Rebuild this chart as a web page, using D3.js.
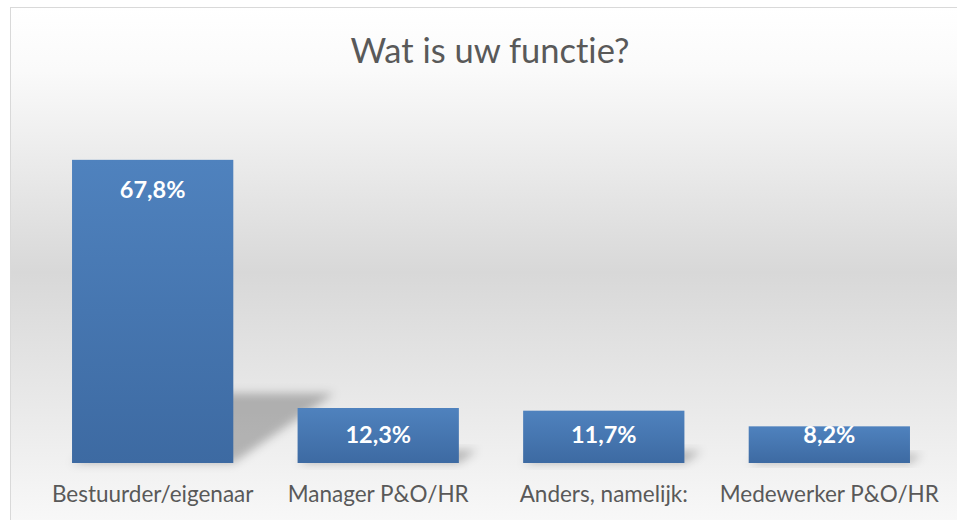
<!DOCTYPE html>
<html>
<head>
<meta charset="utf-8">
<script src="https://cdn.jsdelivr.net/npm/d3@7"></script>
<style>
  html, body { margin: 0; padding: 0; background: #ffffff; overflow: hidden; }
  svg { display: block; }
  text { font-variant-ligatures: none; font-feature-settings: "liga" 0, "dlig" 0; }
</style>
</head>
<body>
<svg id="drawing_region"></svg>
<script>
// chart data
const title = "Wat is uw functie?";
const categories = ["Bestuurder/eigenaar", "Manager P&O/HR", "Anders, namelijk:", "Medewerker P&O/HR"];
const values = [67.8, 12.3, 11.7, 8.2];
const valueLabels = ["67,8%", "12,3%", "11,7%", "8,2%"];

const config = {
    parent: '#drawing_region',
    width: 957,
    height: 520,
};

const data = categories.map( (c, i) => ({ label: c, value: values[i], text: valueLabels[i] }) );

class BarChart {

  constructor( config, data ) {
      this.config = config;
      this.data = data;
      this.init();
  }

  init() {
      let self = this;

      self.svg = d3.select( self.config.parent )
          .attr('width', self.config.width)
          .attr('height', self.config.height);

      const defs = self.svg.append('defs');

      const bg = defs.append('linearGradient')
          .attr('id', 'bg')
          .attr('x1', 0).attr('y1', 0).attr('x2', 0).attr('y2', 1);
      bg.append('stop').attr('offset', '0%').attr('stop-color', '#ffffff');
      bg.append('stop').attr('offset', '12%').attr('stop-color', '#fafafa');
      bg.append('stop').attr('offset', '50%').attr('stop-color', '#d8d8d8');
      bg.append('stop').attr('offset', '88%').attr('stop-color', '#f2f2f2');
      bg.append('stop').attr('offset', '100%').attr('stop-color', '#fafafa');

      const bar = defs.append('linearGradient')
          .attr('id', 'bar')
          .attr('x1', 0).attr('y1', 0).attr('x2', 0).attr('y2', 1);
      bar.append('stop').attr('offset', '0%').attr('stop-color', '#4f82be');
      bar.append('stop').attr('offset', '100%').attr('stop-color', '#3d6aa2');

      defs.append('filter')
          .attr('id', 'blur')
          .attr('x', '-50%').attr('y', '-50%').attr('width', '200%').attr('height', '200%')
          .append('feGaussianBlur')
          .attr('stdDeviation', 5);

      // chart area
      self.svg.append('rect')
          .attr('x', 10.5)
          .attr('y', 7.5)
          .attr('width', 960)
          .attr('height', 530)
          .attr('fill', 'url(#bg)')
          .attr('stroke', '#d9d9d9')
          .attr('stroke-width', 1);

      self.xscale = d3.scaleBand()
          .domain( self.data.map( d => d.label ) )
          .range([40, 942])
          .paddingInner(0.285)
          .paddingOuter(0.142);

      self.yscale = d3.scaleLinear()
          .domain([0, 70])
          .range([463, 150]);

      self.chart = self.svg.append('g');
  }

  render() {
      let self = this;
      const y0 = self.yscale(0);
      const font = 'Lato, "Open Sans", sans-serif';

      // perspective shadows
      self.chart.selectAll('.shadow')
          .data( self.data )
          .enter()
          .append('path')
          .attr('class', 'shadow')
          .attr('d', d => {
              const x0 = self.xscale(d.label);
              const x1 = x0 + self.xscale.bandwidth();
              const sh = (y0 - self.yscale(d.value)) * 0.23;
              const dx = sh * 1.45;
              return `M${x0},${y0} L${x1},${y0} L${x1 + dx},${y0 - sh} L${x0 + dx},${y0 - sh} Z`;
          })
          .attr('fill', '#000')
          .attr('fill-opacity', 0.25)
          .attr('filter', 'url(#blur)');

      self.chart.selectAll('.bar')
          .data( self.data )
          .enter()
          .append('rect')
          .attr('class', 'bar')
          .attr('x', d => self.xscale(d.label))
          .attr('y', d => self.yscale(d.value))
          .attr('width', self.xscale.bandwidth())
          .attr('height', d => y0 - self.yscale(d.value))
          .attr('fill', 'url(#bar)');

      self.chart.selectAll('.value')
          .data( self.data )
          .enter()
          .append('text')
          .attr('class', 'value')
          .attr('x', d => self.xscale(d.label) + self.xscale.bandwidth() / 2)
          .attr('y', d => Math.min(self.yscale(d.value) + 38, y0 - 20))
          .attr('text-anchor', 'middle')
          .attr('fill', 'white')
          .style('font-family', font)
          .style('font-weight', 'bold')
          .style('font-size', '23.5px')
          .text( d => d.text );

      self.chart.selectAll('.cat')
          .data( self.data )
          .enter()
          .append('text')
          .attr('class', 'cat')
          .attr('x', d => self.xscale(d.label) + self.xscale.bandwidth() / 2)
          .attr('y', 502)
          .attr('text-anchor', 'middle')
          .attr('fill', '#595959')
          .style('font-family', font)
          .style('font-size', '22.5px')
          .text( d => d.label );

      self.svg.append('text')
          .attr('x', 490)
          .attr('y', 63)
          .attr('text-anchor', 'middle')
          .attr('fill', '#595959')
          .style('font-family', font)
          .style('font-size', '34.5px')
          .text( title );
  }
}

const bar_chart = new BarChart( config, data );
bar_chart.render();
</script>
</body>
</html>
